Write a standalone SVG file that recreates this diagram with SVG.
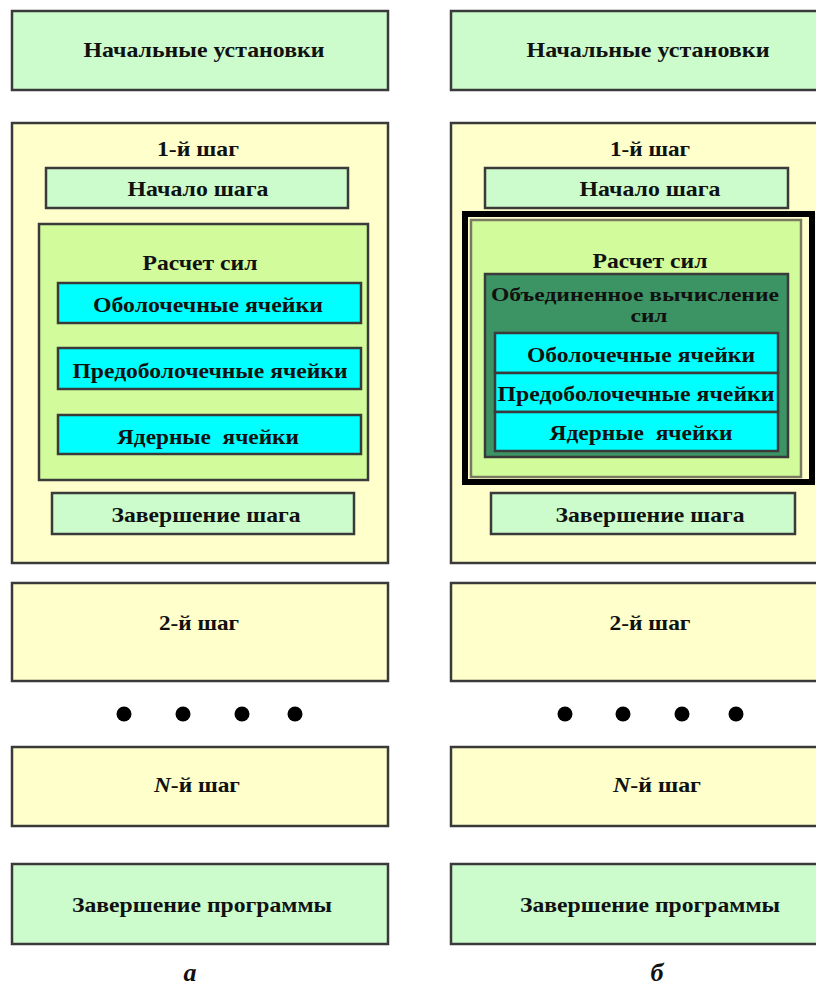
<svg xmlns="http://www.w3.org/2000/svg" width="816" height="990" viewBox="0 0 816 990">
<style>
text{font-family:"Liberation Serif","Times New Roman",serif;font-weight:bold;fill:#111;text-anchor:middle;dominant-baseline:central}
.t{font-size:22px}
.s{font-size:22px}
.u{font-size:18px}
.box{stroke:#3a3a3a;stroke-width:2.5}
.g{fill:#ccfccc}
.y{fill:#ffffcc}
.f{fill:#d2fc9c}
.c{fill:#00ffff}
.d{fill:#3c9464}
.lab{font-size:26px;font-style:italic;dominant-baseline:auto}
</style>
<rect width="816" height="990" fill="#ffffff"/>
<g id="panel-a">
<g id="a-init"><rect class="box g" x="12" y="11" width="376" height="79"/><text class="t" x="204" y="49" textLength="241" lengthAdjust="spacingAndGlyphs">Начальные установки</text></g>
<g id="a-step1"><rect class="box y" x="12" y="123" width="376" height="440"/><text class="t" x="198" y="148" textLength="82" lengthAdjust="spacingAndGlyphs">1-й шаг</text>
<g id="a-start"><rect class="box g" x="46" y="168" width="302" height="40"/><text class="t" x="198" y="188" textLength="141" lengthAdjust="spacingAndGlyphs">Начало шага</text></g>
<g id="a-forces"><rect class="box f" x="39" y="224" width="329" height="256"/><text class="t" x="200" y="262" textLength="115" lengthAdjust="spacingAndGlyphs">Расчет сил</text>
<g id="a-shell"><rect class="box c" x="58" y="283" width="303" height="40"/><text class="s" x="208" y="304" textLength="230" lengthAdjust="spacingAndGlyphs">Оболочечные ячейки</text></g>
<g id="a-preshell"><rect class="box c" x="58" y="348" width="303" height="41"/><text class="s" x="210" y="370" textLength="275" lengthAdjust="spacingAndGlyphs">Предоболочечные ячейки</text></g>
<g id="a-core"><rect class="box c" x="58" y="415" width="303" height="39"/><text class="s" x="208" y="436" xml:space="preserve" textLength="182" lengthAdjust="spacingAndGlyphs">Ядерные  ячейки</text></g>
</g>
<g id="a-end"><rect class="box g" x="52" y="493" width="302" height="41"/><text class="t" x="206" y="514" textLength="189" lengthAdjust="spacingAndGlyphs">Завершение шага</text></g>
</g>
<g id="a-step2"><rect class="box y" x="12" y="583" width="376" height="98"/><text class="t" x="199" y="622" textLength="80" lengthAdjust="spacingAndGlyphs">2-й шаг</text></g>
<g id="a-dots"><circle cx="124" cy="714" r="7.5" fill="#000"/><circle cx="183" cy="714" r="7.5" fill="#000"/><circle cx="242" cy="714" r="7.5" fill="#000"/><circle cx="295" cy="714" r="7.5" fill="#000"/></g>
<g id="a-stepN"><rect class="box y" x="12" y="747" width="376" height="79"/><text class="t" x="197" y="784" textLength="86" lengthAdjust="spacingAndGlyphs"><tspan font-style="italic">N</tspan>-й шаг</text></g>
<g id="a-finish"><rect class="box g" x="12" y="864" width="376" height="80"/><text class="t" x="202" y="904" textLength="260" lengthAdjust="spacingAndGlyphs">Завершение программы</text></g>
<text id="a-label" class="lab" x="190" y="981">а</text>
</g>
<g id="panel-b">
<g id="b-init"><rect class="box g" x="451" y="11" width="370" height="79"/><text class="t" x="648" y="49" textLength="243" lengthAdjust="spacingAndGlyphs">Начальные установки</text></g>
<g id="b-step1"><rect class="box y" x="451" y="123" width="370" height="440"/><text class="t" x="650" y="148" textLength="80" lengthAdjust="spacingAndGlyphs">1-й шаг</text>
<g id="b-start"><rect class="box g" x="485" y="168" width="303" height="40"/><text class="t" x="650" y="188" textLength="141" lengthAdjust="spacingAndGlyphs">Начало шага</text></g>
<rect x="465" y="214" width="347" height="268" fill="none" stroke="#000" stroke-width="6"/>
<g id="b-forces"><rect x="471" y="220" width="330" height="257" fill="#d2fc9c" stroke="#7a7a62" stroke-width="2.5"/><text class="t" x="650" y="260" textLength="115" lengthAdjust="spacingAndGlyphs">Расчет сил</text>
<g id="b-united"><rect class="box d" x="485" y="274" width="303" height="183"/><text class="u" x="635" y="295" textLength="288" lengthAdjust="spacingAndGlyphs">Объединенное вычисление</text><text class="u" x="649" y="316" textLength="37" lengthAdjust="spacingAndGlyphs">сил</text>
<g id="b-shell"><rect class="box c" x="495" y="333" width="283" height="40"/><text class="s" x="641" y="354" textLength="228" lengthAdjust="spacingAndGlyphs">Оболочечные ячейки</text></g>
<g id="b-preshell"><rect class="box c" x="495" y="373" width="283" height="39"/><text class="s" x="636" y="393" textLength="277" lengthAdjust="spacingAndGlyphs">Предоболочечные ячейки</text></g>
<g id="b-core"><rect class="box c" x="495" y="412" width="283" height="39"/><text class="s" x="641" y="432" xml:space="preserve" textLength="183" lengthAdjust="spacingAndGlyphs">Ядерные  ячейки</text></g>
</g>
</g>
<g id="b-end"><rect class="box g" x="491" y="493" width="304" height="41"/><text class="t" x="650" y="514" textLength="189" lengthAdjust="spacingAndGlyphs">Завершение шага</text></g>
</g>
<g id="b-step2"><rect class="box y" x="451" y="583" width="370" height="98"/><text class="t" x="650" y="622" textLength="81" lengthAdjust="spacingAndGlyphs">2-й шаг</text></g>
<g id="b-dots"><circle cx="565" cy="714" r="7.5" fill="#000"/><circle cx="623" cy="714" r="7.5" fill="#000"/><circle cx="682" cy="714" r="7.5" fill="#000"/><circle cx="736" cy="714" r="7.5" fill="#000"/></g>
<g id="b-stepN"><rect class="box y" x="451" y="747" width="370" height="79"/><text class="t" x="657" y="784" textLength="88" lengthAdjust="spacingAndGlyphs"><tspan font-style="italic">N</tspan>-й шаг</text></g>
<g id="b-finish"><rect class="box g" x="451" y="864" width="370" height="80"/><text class="t" x="650" y="904" textLength="260" lengthAdjust="spacingAndGlyphs">Завершение программы</text></g>
<text id="b-label" class="lab" x="657" y="981">б</text>
</g>
<g id="connectors"></g>
</svg>
